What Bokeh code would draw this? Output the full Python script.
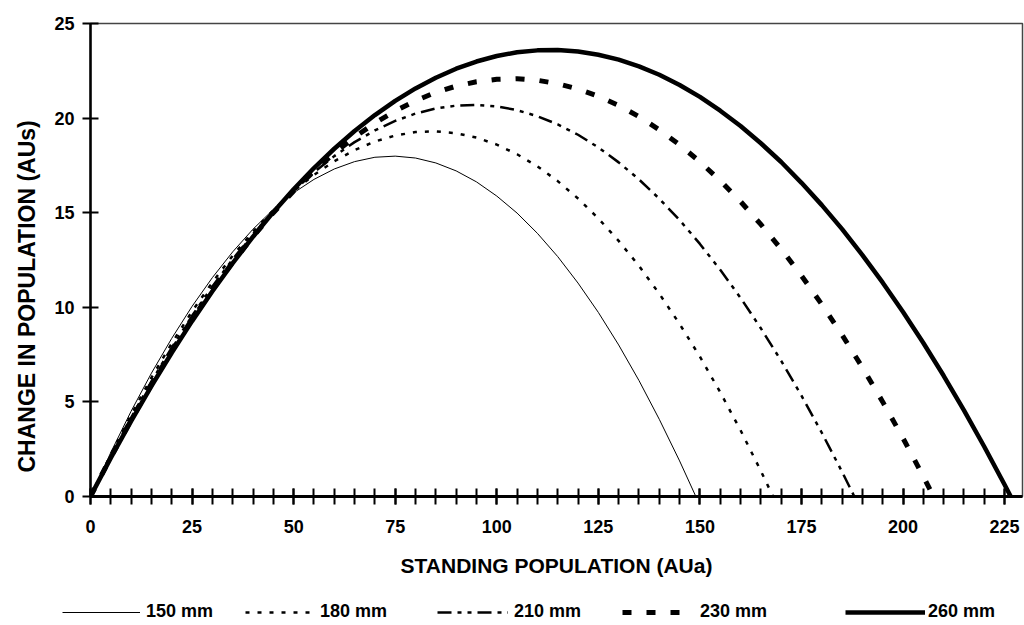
from bokeh.plotting import figure
from bokeh.layouts import column, row
from bokeh.models import (Range1d, SingleIntervalTicker, Legend, LegendItem, Title)
from bokeh.embed import file_html
from bokeh.resources import INLINE

# Standing population (AUa) and change in population (AUs) for each rainfall level
x150 = [0, 5, 10, 15, 20, 25, 30, 35, 40, 45, 50, 55, 60, 65, 70, 75, 80, 85, 90,
        95, 100, 105, 110, 115, 120, 125, 130, 135, 140, 145, 149]
y150 = [0, 2.33, 4.51, 6.52, 8.36, 10.05, 11.57, 12.93, 14.13, 15.17, 16.05, 16.76,
        17.31, 17.70, 17.93, 17.99, 17.89, 17.63, 17.21, 16.63, 15.88, 14.98, 13.91,
        12.68, 11.28, 9.73, 8.01, 6.13, 4.08, 1.88, 0]

x180 = [0, 5, 10, 15, 20, 25, 30, 35, 40, 45, 50, 55, 60, 65, 70, 75, 80, 85, 90,
        95, 100, 105, 110, 115, 120, 125, 130, 135, 140, 145, 150, 155, 160, 165, 168]
y180 = [0, 2.23, 4.32, 6.28, 8.10, 9.78, 11.32, 12.73, 14.00, 15.14, 16.14, 17.00,
        17.72, 18.31, 18.76, 19.08, 19.26, 19.30, 19.20, 18.97, 18.60, 18.09, 17.45,
        16.67, 15.75, 14.70, 13.51, 12.19, 10.72, 9.12, 7.39, 5.51, 3.50, 1.35, 0]

x210 = [0, 5, 10, 15, 20, 25, 30, 35, 40, 45, 50, 55, 60, 65, 70, 75, 80, 85, 90,
        95, 100, 105, 110, 115, 120, 125, 130, 135, 140, 145, 150, 155, 160, 165,
        170, 175, 180, 185, 188]
y210 = [0, 2.14, 4.17, 6.08, 7.87, 9.55, 11.10, 12.54, 13.87, 15.07, 16.16, 17.14,
        17.99, 18.73, 19.35, 19.85, 20.24, 20.51, 20.66, 20.70, 20.62, 20.42, 20.10,
        19.67, 19.12, 18.45, 17.66, 16.76, 15.74, 14.61, 13.35, 11.98, 10.50, 8.89,
        7.17, 5.33, 3.37, 1.30, 0]

x230 = [0, 5, 10, 15, 20, 25, 30, 35, 40, 45, 50, 55, 60, 65, 70, 75, 80, 85, 90,
        95, 100, 105, 110, 115, 120, 125, 130, 135, 140, 145, 150, 155, 160, 165,
        170, 175, 180, 185, 190, 195, 200, 205, 207.5]
y230 = [0, 2.08, 4.05, 5.92, 7.69, 9.36, 10.92, 12.38, 13.74, 15.00, 16.15, 17.20,
        18.15, 19.00, 19.74, 20.38, 20.92, 21.36, 21.69, 21.92, 22.05, 22.08, 22.00,
        21.82, 21.54, 21.15, 20.67, 20.08, 19.38, 18.59, 17.69, 16.69, 15.59, 14.38,
        13.08, 11.67, 10.15, 8.54, 6.82, 5.00, 3.08, 1.05, 0]

x260 = [0, 5, 10, 15, 20, 25, 30, 35, 40, 45, 50, 55, 60, 65, 70, 75, 80, 85, 90,
        95, 100, 105, 110, 115, 120, 125, 130, 135, 140, 145, 150, 155, 160, 165,
        170, 175, 180, 185, 190, 195, 200, 205, 210, 215, 220, 225, 226.5]
y260 = [0, 2.04, 3.98, 5.84, 7.60, 9.27, 10.85, 12.33, 13.73, 15.03, 16.24, 17.36,
        18.38, 19.32, 20.16, 20.91, 21.57, 22.13, 22.61, 22.99, 23.28, 23.48, 23.58,
        23.60, 23.52, 23.35, 23.09, 22.73, 22.29, 21.75, 21.12, 20.39, 19.58, 18.67,
        17.68, 16.58, 15.40, 14.13, 12.76, 11.30, 9.75, 8.11, 6.38, 4.55, 2.63, 0.62, 0]

series_labels = ["150 mm", "180 mm", "210 mm", "230 mm", "260 mm"]
x_ticks_major = 25
y_ticks_major = 5

FONT = "Liberation Sans"

# line style for each series, in the order of series_labels
styles = [
    dict(line_color="black", line_width=1),
    dict(line_color="black", line_width=2.5, line_dash="4 8"),
    dict(line_color="black", line_width=2.5, line_dash="14 6 4 6 4 6"),
    dict(line_color="black", line_width=5, line_dash="9 15"),
    dict(line_color="black", line_width=4.5),
]

# legend key layout: left edge (px), sample length (px), gap before the text (px)
key_left = [62, 245, 437, 622, 845]
key_len = [78, 70, 71, 68, 80]
key_gap = [6, 5, 6, 10, 3]

p = figure(width=1024, height=590, output_backend="svg", toolbar_location=None,
           x_range=Range1d(0, 229.4), y_range=Range1d(0, 25),
           min_border_left=90, min_border_right=2, min_border_top=23,
           min_border_bottom=94)
p.background_fill_color = "white"
p.border_fill_color = "white"
p.outline_line_color = "#444444"
p.outline_line_width = 1.5
p.xgrid.visible = False
p.ygrid.visible = False

# x axis: labels every 25, ticks crossing the axis every 5
xa = p.xaxis[0]
xa.ticker = SingleIntervalTicker(interval=x_ticks_major, num_minor_ticks=5)
xa.axis_line_width = 3
xa.axis_line_color = "black"
xa.major_tick_in = 8
xa.major_tick_out = 8
xa.minor_tick_in = 8
xa.minor_tick_out = 8
xa.major_tick_line_width = 2
xa.minor_tick_line_width = 2
xa.major_tick_line_color = "black"
xa.minor_tick_line_color = "black"
xa.major_label_text_font = FONT
xa.major_label_text_font_style = "bold"
xa.major_label_text_font_size = "18px"
xa.major_label_text_color = "black"
xa.major_label_standoff = 15
xa.axis_label = "STANDING POPULATION (AUa)"
xa.axis_label_text_font = FONT
xa.axis_label_text_font_style = "bold"
xa.axis_label_text_font_size = "21px"
xa.axis_label_text_color = "black"
xa.axis_label_standoff = 18

# y axis: ticks every 5
ya = p.yaxis[0]
ya.ticker = SingleIntervalTicker(interval=y_ticks_major, num_minor_ticks=0)
ya.axis_line_width = 2.5
ya.axis_line_color = "black"
ya.major_tick_in = 8
ya.major_tick_out = 8
ya.minor_tick_in = 0
ya.minor_tick_out = 0
ya.major_tick_line_width = 2
ya.major_tick_line_color = "black"
ya.major_label_text_font = FONT
ya.major_label_text_font_style = "bold"
ya.major_label_text_font_size = "18px"
ya.major_label_text_color = "black"
ya.major_label_standoff = 8

# y axis title, starting a little above the frame's bottom edge
ytitle = Title(text="CHANGE IN POPULATION (AUs)", align="left", offset=24,
               text_font=FONT, text_font_style="bold", text_font_size="23px",
               text_color="black", standoff=23)
p.add_layout(ytitle, "left")

renderers = [p.line(xs, ys, **st) for xs, ys, st in
             zip([x150, x180, x210, x230, x260], [y150, y180, y210, y230, y260], styles)]

# legend strip under the chart; its sample lines sit outside the visible range
lg = figure(width=1024, height=35, output_backend="svg", toolbar_location=None,
            x_axis_type=None, y_axis_type=None,
            x_range=Range1d(0, 1), y_range=Range1d(0, 1),
            min_border_left=0, min_border_right=0, min_border_top=0,
            min_border_bottom=0)
lg.outline_line_color = None
lg.xgrid.visible = False
lg.ygrid.visible = False
for lab, st, left, length, gap in zip(series_labels, styles, key_left, key_len, key_gap):
    r = lg.line([5, 6], [5, 6], **st)
    lg.add_layout(Legend(items=[LegendItem(label=lab, renderers=[r])],
                         orientation="horizontal", location=(left, 3),
                         glyph_width=length, glyph_height=20, label_standoff=gap,
                         padding=0, margin=0, border_line_color=None,
                         background_fill_alpha=0,
                         label_text_font=FONT, label_text_font_style="bold",
                         label_text_font_size="18px", label_text_color="black"))

open("out.html", "w").write(
    file_html(column(row(p), row(lg), spacing=0), INLINE))
